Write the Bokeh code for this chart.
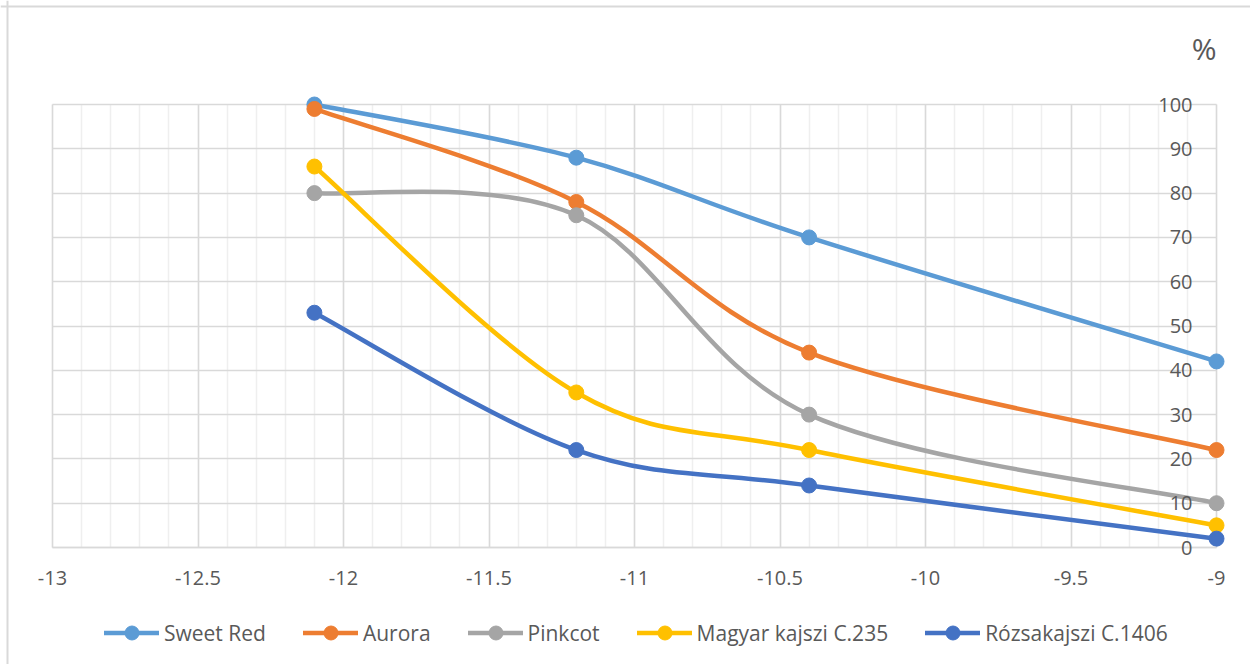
from bokeh.plotting import figure
from bokeh.models import (Range1d, SingleIntervalTicker, FixedTicker, Legend, LegendItem,
                          Label, Span, ColumnDataSource)
from bokeh.embed import file_html
from bokeh.resources import INLINE

# ---------------- data ----------------
x_vals = [-12.1, -11.2, -10.4, -9.0]
sweet_red = [100, 88, 70, 42]
aurora = [99, 78, 44, 22]
pinkcot = [80, 75, 30, 10]
magyar = [86, 35, 22, 5]
rozsa = [53, 22, 14, 2]
series_names = ["Sweet Red", "Aurora", "Pinkcot", "Magyar kajszi C.235", "Rózsakajszi C.1406"]
series_values = [sweet_red, aurora, pinkcot, magyar, rozsa]
series_colors = ["#5B9BD5", "#ED7D31", "#A5A5A5", "#FFC000", "#4472C4"]
x_ticks = [-13, -12.5, -12, -11.5, -11, -10.5, -10, -9.5, -9]
x_tick_labels = ["-13", "-12.5", "-12", "-11.5", "-11", "-10.5", "-10", "-9.5", "-9"]
y_ticks = [0, 10, 20, 30, 40, 50, 60, 70, 80, 90, 100]
y_unit = "%"

FONT = "Open Sans"
TXT = "#595959"

# The frame covers the whole figure; axes are placed at fixed data locations
p = figure(width=1250, height=664,
           x_range=Range1d(-13.1787, -8.8832), y_range=Range1d(-26.41, 123.48),
           output_backend="svg", toolbar_location=None,
           min_border_left=0, min_border_right=0, min_border_top=0, min_border_bottom=0)
p.outline_line_color = None
p.background_fill_color = "white"
p.border_fill_color = "white"

# chart-area border (left and top edges)
p.add_layout(Span(location=7, location_units="screen", dimension="height",
                  line_color="#d9d9d9", line_width=2))
p.add_layout(Span(location=658, location_units="screen", dimension="width",
                  line_color="#d9d9d9", line_width=2))

# x axis at y = 0
xa = p.xaxis[0]
xa.ticker = FixedTicker(ticks=x_ticks)
xa.major_label_overrides = dict(zip(x_ticks, x_tick_labels))
xa.fixed_location = 0
xa.bounds = (-13, -9)
xa.axis_line_color = "#d9d9d9"
xa.axis_line_width = 1.5
xa.major_tick_line_color = None
xa.minor_tick_line_color = None
xa.major_tick_out = 0
xa.major_tick_in = 0
xa.major_label_standoff = 23
xa.major_label_text_font = FONT
xa.major_label_text_font_size = "20px"
xa.major_label_text_color = TXT

# y axis drawn at x = -9, labels to its left
ya = p.yaxis[0]
ya.ticker = FixedTicker(ticks=y_ticks)
ya.fixed_location = -9
ya.bounds = (0, 100)
ya.axis_line_color = None
ya.major_tick_line_color = None
ya.minor_tick_line_color = None
ya.major_tick_out = 0
ya.major_tick_in = 0
ya.major_label_standoff = 24
ya.major_label_text_font = FONT
ya.major_label_text_font_size = "20px"
ya.major_label_text_color = TXT

# grids
xg = p.xgrid[0]
xg.ticker = SingleIntervalTicker(interval=0.5, num_minor_ticks=5)
xg.bounds = (-13, -9)
xg.cross_bounds = (0, 100)
xg.grid_line_color = "#d9d9d9"
xg.grid_line_width = 1.5
xg.minor_grid_line_color = "#efefef"
xg.minor_grid_line_width = 1.5

yg = p.ygrid[0]
yg.ticker = FixedTicker(ticks=y_ticks)
yg.bounds = (0, 100)
yg.cross_bounds = (-13, -9)
yg.grid_line_color = "#d9d9d9"
yg.grid_line_width = 1.5


def smooth_segments(xs, ys):
    n = len(xs)
    d = dict(x0=[], y0=[], x1=[], y1=[], cx0=[], cy0=[], cx1=[], cy1=[])
    for i in range(n - 1):
        im = max(i - 1, 0)
        ip2 = min(i + 2, n - 1)
        d["x0"].append(xs[i]); d["y0"].append(ys[i])
        d["x1"].append(xs[i + 1]); d["y1"].append(ys[i + 1])
        d["cx0"].append(xs[i] + (xs[i + 1] - xs[im]) / 6)
        d["cy0"].append(ys[i] + (ys[i + 1] - ys[im]) / 6)
        d["cx1"].append(xs[i + 1] - (xs[ip2] - xs[i]) / 6)
        d["cy1"].append(ys[i + 1] - (ys[ip2] - ys[i]) / 6)
    return ColumnDataSource(d)


items = []
for name, vals, col in zip(series_names, series_values, series_colors):
    r1 = p.bezier(x0="x0", y0="y0", x1="x1", y1="y1", cx0="cx0", cy0="cy0",
                  cx1="cx1", cy1="cy1", source=smooth_segments(x_vals, vals),
                  line_color=col, line_width=4.5, line_cap="round")
    r2 = p.scatter(x=x_vals, y=vals, size=15, marker="circle",
                   fill_color=col, line_color=col, line_width=1)
    items.append(LegendItem(label=name, renderers=[r1, r2]))

legend = Legend(items=items, orientation="horizontal", location=(104, 14),
                glyph_width=55, glyph_height=35, label_standoff=5, spacing=37,
                label_text_font=FONT, label_text_font_size="21px", label_text_color=TXT,
                border_line_color=None, background_fill_alpha=0, margin=0, padding=4)
p.add_layout(legend, "center")

p.add_layout(Label(x=-9, y=616, x_units="data", y_units="screen", text=y_unit,
                   text_align="right", text_baseline="middle", text_font=FONT,
                   text_font_size="30px", text_color=TXT))

open("out.html", "w").write(file_html(p, INLINE))
